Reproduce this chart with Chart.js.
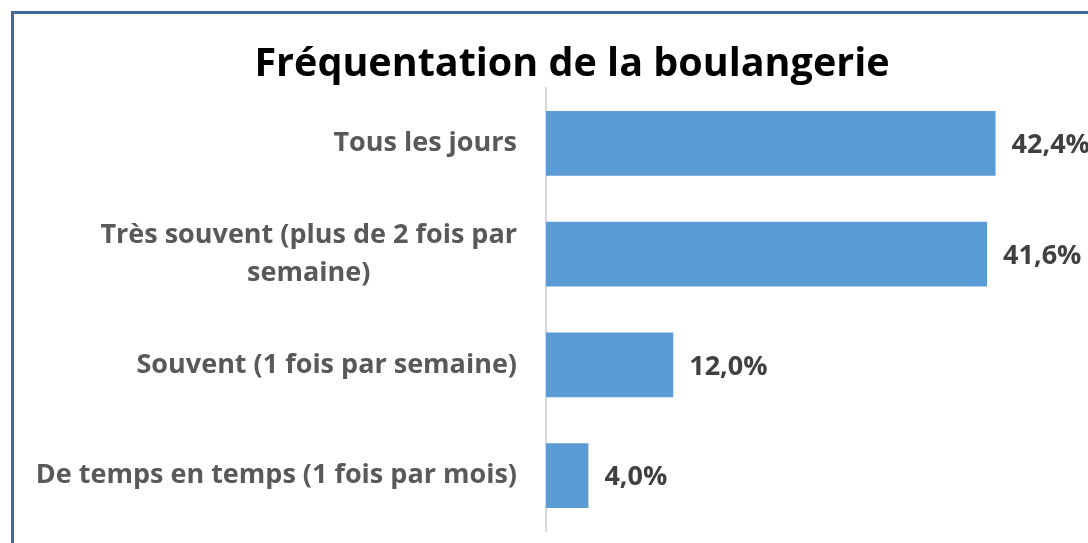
<!DOCTYPE html>
<html lang="fr">
<head>
<meta charset="utf-8">
<title>Fréquentation de la boulangerie</title>
<script src="https://cdn.jsdelivr.net/npm/chart.js@4.4.1/dist/chart.umd.min.js"></script>
<style>
  html, body { margin: 0; padding: 0; background: #fff; overflow: hidden; }
  #wrap { position: relative; width: 1212px; height: 600px; }
</style>
</head>
<body>
<div id="wrap"><canvas id="chart" width="1212" height="600"></canvas></div>
<script>
// --- data ---
const categories = [
  'Tous les jours',
  ['Très souvent (plus de 2 fois par', 'semaine)'],
  'Souvent (1 fois par semaine)',
  'De temps en temps (1 fois par mois)'
];
const shares = [42.4, 41.6, 12.0, 4.0];
const valueLabels = ['42,4%', '41,6%', '12,0%', '4,0%'];

const FONT = "'Open Sans', sans-serif";

// frame around the whole chart (right/bottom edges fall outside the window)
const framePlugin = {
  id: 'frame',
  beforeDraw(chart) {
    const ctx = chart.ctx;
    ctx.save();
    ctx.fillStyle = '#fff';
    ctx.fillRect(0, 0, chart.width, chart.height);
    ctx.strokeStyle = '#44699A';
    ctx.lineWidth = 3;
    ctx.strokeRect(12.5, 12.5, 1120, 575);
    ctx.restore();
  }
};

// category labels: right edge against the axis, wrapped lines centred on each other
const categoryLabelPlugin = {
  id: 'categoryLabels',
  afterDraw(chart) {
    const ctx = chart.ctx;
    const y = chart.scales.y;
    const right = y.right - 29;
    const lineH = 38;
    ctx.save();
    ctx.font = 'bold 27px ' + FONT;
    ctx.fillStyle = '#595959';
    ctx.textAlign = 'center';
    ctx.textBaseline = 'middle';
    y.ticks.forEach((t, i) => {
      const lines = [].concat(chart.data.labels[i]);
      const w = Math.max(...lines.map(l => ctx.measureText(l).width));
      const cx = right - w / 2;
      const cy = y.getPixelForTick(i) - (lines.length - 1) * lineH / 2;
      lines.forEach((l, k) => ctx.fillText(l, cx, cy + k * lineH));
    });
    ctx.restore();
  }
};

// value labels to the right of each bar
const valueLabelPlugin = {
  id: 'valueLabels',
  afterDatasetsDraw(chart) {
    const ctx = chart.ctx;
    const meta = chart.getDatasetMeta(0);
    ctx.save();
    ctx.font = 'bold 27px ' + FONT;
    ctx.fillStyle = '#404040';
    ctx.textAlign = 'left';
    ctx.textBaseline = 'middle';
    meta.data.forEach((bar, i) => {
      ctx.fillText(valueLabels[i], bar.x + 16, bar.y + 2);
    });
    ctx.restore();
  }
};

new Chart(document.getElementById('chart'), {
  type: 'bar',
  data: {
    labels: categories,
    datasets: [{
      data: shares,
      backgroundColor: '#5B9BD5',
      borderWidth: 0,
      categoryPercentage: 1,
      barPercentage: 0.585
    }]
  },
  plugins: [framePlugin, valueLabelPlugin, categoryLabelPlugin],
  options: {
    indexAxis: 'y',
    responsive: false,
    animation: false,
    layout: { padding: { top: 0, right: 68, bottom: 69, left: 0 } },
    plugins: {
      legend: { display: false },
      tooltip: { enabled: false },
      title: {
        display: true,
        text: 'Fréquentation de la boulangerie',
        color: '#000',
        font: { family: FONT, size: 39.5, weight: 'bold' },
        padding: { top: 40.6, bottom: 0 }
      }
    },
    scales: {
      x: {
        display: false,
        min: 0,
        max: 56.4
      },
      y: {
        afterFit(scale) { scale.width = 546; },
        grid: { display: false, drawTicks: false },
        border: { display: true, color: '#D9D9D9', width: 2 },
        ticks: { display: false }
      }
    }
  }
});
</script>
</body>
</html>
